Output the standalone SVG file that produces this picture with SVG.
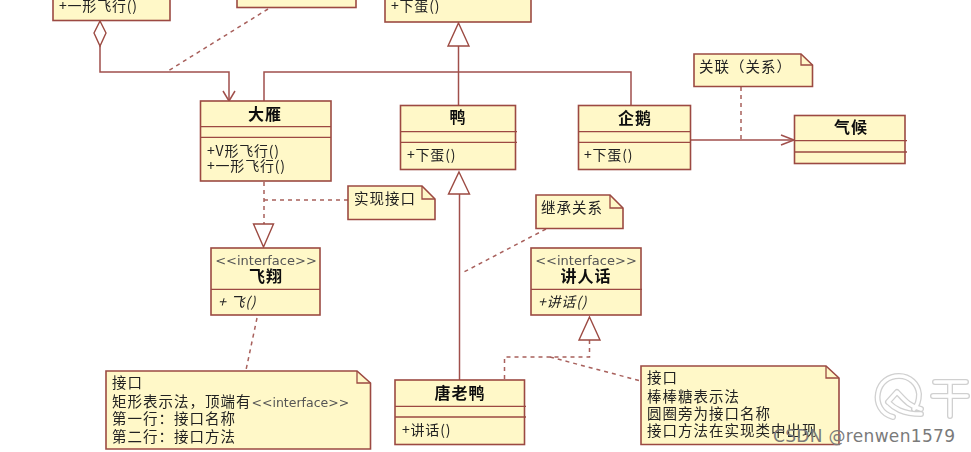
<svg xmlns="http://www.w3.org/2000/svg" width="971" height="452" viewBox="0 0 971 452">
<style>
text{font-family:"Noto Sans CJK SC","Liberation Sans",sans-serif;font-size:14px;letter-spacing:.8px;fill:#222}
.t{font-size:16px;font-weight:700;letter-spacing:1px;text-anchor:middle;fill:#111}
.s{font-family:"DejaVu Sans",sans-serif;font-size:13px;letter-spacing:0;text-anchor:middle;fill:#555}
.n{font-size:14.5px;letter-spacing:1px}
.i{font-style:italic}
.b{fill:#fff8c8;stroke:#9c4a42;stroke-width:1.6}
.d{stroke:#9c4a42;stroke-width:1.3;fill:none}
.l{fill:none;stroke:#a0504c;stroke-width:1.5}
.a{stroke-dasharray:4 4;stroke:#a8605c}
.o{fill:#fff;stroke:#9c4a42;stroke-width:1.4}
.w1{fill:none;stroke:#d0d0d0;stroke-width:6;stroke-linecap:round;stroke-linejoin:round}
.w2{fill:none;stroke:#fff;stroke-width:3.400;stroke-linecap:round;stroke-linejoin:round}
</style>
<defs>
<filter id="soft" x="-2%" y="-2%" width="104%" height="104%"><feGaussianBlur stdDeviation=".35"/></filter>
<path id="logo" d="M893 417C881 414 876 403 878 393C880 382 889 376 899 376C910 376 918 384 919 394C919 401 917 406 914 409M888 402L897 392C903 398 908 406 921 409M888 402C894 408 902 414 921 414"/>
<path id="gan" d="M935 382H966M933 396H967M950 383V416"/>
</defs>
<g filter="url(#soft)">
<g id="connectors">
<path class="l" d="M100 46V72H229V100"/>
<path class="l" d="M223 91L229 101L235 91"/>
<path class="l" d="M264 101V72H631V105"/>
<path class="l" d="M458.500 46V105"/>
<path class="l" d="M459.500 194V380"/>
<path class="l" d="M691 140H793"/>
<path class="l" d="M781 135L794 140L781 145"/>
<path class="l a" d="M268 9L168 71"/>
<path class="l a" d="M264 182V224"/>
<path class="l a" d="M264 200H348"/>
<path class="l a" d="M741 87V139"/>
<path class="l a" d="M257 318L246 370"/>
<path class="l a" d="M546 229L462 273"/>
<path class="l a" d="M589.500 340V357H504.500V380"/>
<path class="l a" d="M550 357L641 381"/>
<path class="o" d="M100 21L106 33L100 46L94 33Z"/>
<path class="o" d="M458.500 23L469 46H448Z"/>
<path class="o" d="M459 172L469.500 194H448.500Z"/>
<path class="o" d="M263.500 247L253.500 224H273.500Z"/>
<path class="o" d="M589.500 317L600 340H579Z"/>
</g>
<g id="node-top-left"><rect class="b" x="53" y="-20" width="117" height="40.500"/><text x="59" y="11">+一形飞行()</text></g>
<g id="node-top-middle"><rect class="b" x="237" y="-20" width="119" height="27.500"/></g>
<g id="node-top-right"><rect class="b" x="385" y="-20" width="146" height="42"/><text x="391" y="11">+下蛋()</text></g>
<g id="node-dayan"><rect class="b" x="200.500" y="101" width="130.500" height="80"/><path class="d" d="M200 126.700H331M200 137.300H331"/><text class="t" x="265" y="120">大雁</text><text x="207" y="156">+V形飞行()</text><text x="207" y="171">+一形飞行()</text></g>
<g id="node-duck"><rect class="b" x="400.500" y="105.500" width="115" height="64"/><path class="d" d="M400 131.700H517M400 142.300H517"/><text class="t" x="458" y="123">鸭</text><text x="407" y="160">+下蛋()</text></g>
<g id="node-penguin"><rect class="b" x="578.500" y="105.500" width="112" height="64"/><path class="d" d="M578 131.700H691M578 142.300H691"/><text class="t" x="635" y="124">企鹅</text><text x="584" y="160">+下蛋()</text></g>
<g id="node-climate"><rect class="b" x="794.500" y="115.500" width="110.500" height="48"/><path class="d" d="M794 140.700H907M794 152H907"/><text class="t" x="851" y="133">气候</text></g>
<g id="node-fly"><rect class="b" x="211" y="248" width="109" height="67"/><path class="d" d="M211 289.300H320"/><text class="s" x="266" y="265">&lt;&lt;interface&gt;&gt;</text><text class="t" x="266" y="282">飞翔</text><text class="i" x="218" y="307">+ 飞()</text></g>
<g id="node-speak"><rect class="b" x="531" y="248" width="110" height="67"/><path class="d" d="M531 289.300H642"/><text class="s" x="586" y="265">&lt;&lt;interface&gt;&gt;</text><text class="t" x="586" y="282">讲人话</text><text class="i" x="538" y="307">+讲话()</text></g>
<g id="node-tang"><rect class="b" x="395" y="380" width="129.500" height="64.500"/><path class="d" d="M395 406.300H526M395 417H526"/><text class="t" x="460" y="399">唐老鸭</text><text x="402" y="435">+讲话()</text></g>
<g id="note-association"><path class="b" d="M694 54H801L812.500 65V86.500H694Z"/><path class="d" d="M801 54V65H812.500"/><text class="n" x="699" y="72">关联（关系）</text></g>
<g id="note-implement"><path class="b" d="M348 186H422L435 199V219.500H348Z"/><path class="d" d="M422 186V199H435"/><text class="n" x="354" y="204">实现接口</text></g>
<g id="note-inherit"><path class="b" d="M536 195H610L623 208V228.500H536Z"/><path class="d" d="M610 195V208H623"/><text class="n" x="541" y="213">继承关系</text></g>
<g id="note-interface"><path class="b" d="M106 371H357L370.500 383V449H106Z"/><path class="d" d="M357 371V383H370.500"/><text class="n" x="112" y="388">接口</text><text class="n" x="112" y="407">矩形表示法，顶端有<tspan class="s" style="font-size:12.500px;letter-spacing:0">&lt;&lt;interface&gt;&gt;</tspan></text><text class="n" x="112" y="424">第一行：接口名称</text><text class="n" x="112" y="442">第二行：接口方法</text></g>
<g id="note-lollipop"><path class="b" d="M641 366H826L839 378V444.500H641Z"/><path class="d" d="M826 366V378H839"/><text class="n" x="647" y="383">接口</text><text class="n" x="647" y="402">棒棒糖表示法</text><text class="n" x="647" y="419">圆圈旁为接口名称</text><text class="n" x="647" y="436">接口方法在实现类中出现</text></g>
</g>
<g id="watermark">
<use href="#logo" class="w1"/><use href="#logo" class="w2"/>
<use href="#gan" class="w1"/><use href="#gan" class="w2"/>
<text x="773" y="442" style="font-family:'DejaVu Sans',sans-serif;font-size:17px;letter-spacing:0;fill:#7a7a7a" textLength="182">CSDN @renwen1579</text></g>
</svg>
